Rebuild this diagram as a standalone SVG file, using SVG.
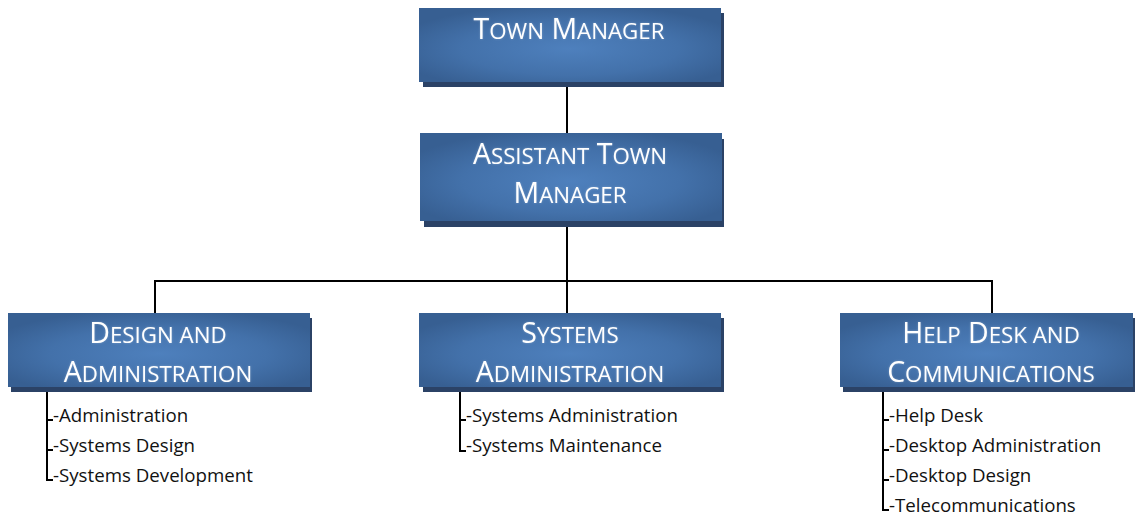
<svg xmlns="http://www.w3.org/2000/svg" width="1135" height="517" viewBox="0 0 1135 517">
<defs>
<radialGradient id="g" cx="0.5" cy="0.55" r="0.6">
<stop offset="0" stop-color="#4e80bd"/>
<stop offset="0.6" stop-color="#4371aa"/>
<stop offset="1" stop-color="#375f92"/>
</radialGradient>
<filter id="glow" x="-10%" y="-30%" width="120%" height="160%">
<feGaussianBlur in="SourceAlpha" stdDeviation="1.2" result="b"/>
<feFlood flood-color="#ffffff" flood-opacity="0.25"/>
<feComposite in2="b" operator="in" result="c"/>
<feMerge><feMergeNode in="c"/><feMergeNode in="SourceGraphic"/></feMerge>
</filter>
</defs>
<style>
.sh{fill:#2b4266}
.bx{fill:url(#g)}
.t{font-family:"Open Sans","Liberation Sans",sans-serif;font-size:28.5px;fill:#ffffff;text-anchor:middle}
.sc{font-size:22.3px}
.i{font-family:"Open Sans","Liberation Sans",sans-serif;font-size:18.7px;fill:#111111}
.ln{stroke:#000;stroke-width:2;fill:none}
</style>
<g id="connectors">
<path class="ln" d="M567 85V133M567 225V281M155 281H992M155 280V313M567 280V313M992 280V313"/>
<path class="ln" d="M47 387V480H53M47 420H53M47 450H53"/>
<path class="ln" d="M460 387V451H466M460 420H466"/>
<path class="ln" d="M883 387V510H889M883 420H889M883 450H889M883 480H889"/>
</g>
<g id="town-manager">
<rect class="sh" x="423" y="13" width="301" height="74"/>
<rect class="bx" x="419" y="8" width="302" height="74"/>
<text class="t" x="569" y="39" filter="url(#glow)">T<tspan class="sc">OWN</tspan> M<tspan class="sc">ANAGER</tspan></text>
</g>
<g id="assistant-town-manager">
<rect class="sh" x="424" y="139" width="300" height="88"/>
<rect class="bx" x="420" y="133" width="302" height="88"/>
<text class="t" x="570" y="164" filter="url(#glow)">A<tspan class="sc">SSISTANT</tspan> T<tspan class="sc">OWN</tspan></text>
<text class="t" x="570" y="203" filter="url(#glow)">M<tspan class="sc">ANAGER</tspan></text>
</g>
<g id="design-and-administration">
<rect class="sh" x="11" y="318" width="301" height="74"/>
<rect class="bx" x="8" y="313" width="302" height="74"/>
<text class="t" x="158" y="343" filter="url(#glow)">D<tspan class="sc">ESIGN AND</tspan></text>
<text class="t" x="158" y="382" filter="url(#glow)">A<tspan class="sc">DMINISTRATION</tspan></text>
<text class="i" x="53" y="422">-Administration</text>
<text class="i" x="53" y="452">-Systems Design</text>
<text class="i" x="53" y="482">-Systems Development</text>
</g>
<g id="systems-administration">
<rect class="sh" x="423" y="318" width="301" height="74"/>
<rect class="bx" x="419" y="313" width="302" height="74"/>
<text class="t" x="570" y="343" filter="url(#glow)">S<tspan class="sc">YSTEMS</tspan></text>
<text class="t" x="570" y="382" filter="url(#glow)">A<tspan class="sc">DMINISTRATION</tspan></text>
<text class="i" x="466" y="422">-Systems Administration</text>
<text class="i" x="466" y="452">-Systems Maintenance</text>
</g>
<g id="help-desk-and-communications">
<rect class="sh" x="843" y="318" width="292" height="74"/>
<rect class="bx" x="840" y="313" width="293" height="74"/>
<text class="t" x="991" y="343" filter="url(#glow)">H<tspan class="sc">ELP</tspan> D<tspan class="sc">ESK AND</tspan></text>
<text class="t" x="991" y="382" filter="url(#glow)">C<tspan class="sc">OMMUNICATIONS</tspan></text>
<text class="i" x="889" y="422">-Help Desk</text>
<text class="i" x="889" y="452">-Desktop Administration</text>
<text class="i" x="889" y="482">-Desktop Design</text>
<text class="i" x="889" y="512">-Telecommunications</text>
</g>
</svg>
